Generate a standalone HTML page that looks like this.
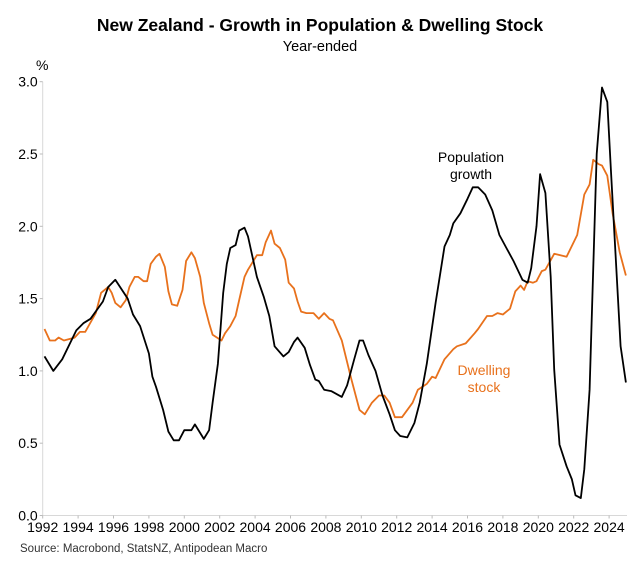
<!DOCTYPE html>
<html><head><meta charset="utf-8"><style>
body{margin:0;background:#fff;}
svg{display:block;font-family:"Liberation Sans",Arial,sans-serif;}
</style></head><body>
<svg id="chart" width="639" height="563" viewBox="0 0 639 563" xmlns="http://www.w3.org/2000/svg">
<text x="320" y="31" text-anchor="middle" font-size="17.5" font-weight="bold" fill="#000">New Zealand - Growth in Population &amp; Dwelling Stock</text>
<text x="320" y="51" text-anchor="middle" font-size="14.5" fill="#000">Year-ended</text>
<text x="36" y="70" font-size="14" fill="#000">%</text>
<g id="axes"></g>
<g id="series"></g>
<text x="471" y="162" text-anchor="middle" font-size="14" fill="#000">Population</text>
<text x="471" y="179" text-anchor="middle" font-size="14" fill="#000">growth</text>
<text x="484" y="375" text-anchor="middle" font-size="14" fill="#e8711c">Dwelling</text>
<text x="484" y="392" text-anchor="middle" font-size="14" fill="#e8711c">stock</text>
<text x="20" y="552" font-size="11.5" fill="#333">Source: Macrobond, StatsNZ, Antipodean Macro</text>
</svg>
<script>
const yTicks = [0, 0.5, 1.0, 1.5, 2.0, 2.5, 3.0];
const yTickLabels = ["0.0","0.5","1.0","1.5","2.0","2.5","3.0"];
const xTicks = [1992,1994,1996,1998,2000,2002,2004,2006,2008,2010,2012,2014,2016,2018,2020,2022,2024];
const popDates = [1992.1,1992.6,1993.1,1993.9,1994.3,1994.7,1995.4,1995.7,1996.1,1996.8,1997.1,1997.5,1998.0,1998.2,1998.4,1998.8,1999.1,1999.4,1999.7,2000.0,2000.4,2000.6,2001.1,2001.4,2001.6,2001.9,2002.2,2002.4,2002.6,2002.9,2003.1,2003.4,2003.6,2004.1,2004.5,2004.8,2005.1,2005.6,2005.9,2006.2,2006.4,2006.8,2007.1,2007.4,2007.6,2007.9,2008.3,2008.9,2009.2,2009.6,2009.9,2010.1,2010.4,2010.8,2011.2,2011.6,2011.9,2012.2,2012.6,2013.0,2013.3,2013.7,2014.2,2014.7,2015.0,2015.2,2015.6,2016.0,2016.3,2016.6,2017.0,2017.4,2017.8,2018.2,2018.6,2019.1,2019.4,2019.6,2019.9,2020.1,2020.4,2020.7,2020.9,2021.2,2021.6,2021.9,2022.1,2022.4,2022.6,2022.9,2023.1,2023.3,2023.6,2023.9,2024.1,2024.65,2024.95];
const popValues = [1.10,1.00,1.08,1.28,1.33,1.36,1.48,1.58,1.63,1.50,1.39,1.31,1.12,0.96,0.89,0.73,0.58,0.52,0.52,0.59,0.59,0.63,0.53,0.59,0.78,1.05,1.54,1.74,1.85,1.87,1.97,1.99,1.93,1.65,1.51,1.38,1.17,1.10,1.13,1.20,1.23,1.16,1.04,0.94,0.93,0.87,0.86,0.82,0.90,1.08,1.21,1.21,1.11,1.00,0.83,0.70,0.59,0.55,0.54,0.64,0.78,1.05,1.47,1.86,1.94,2.02,2.09,2.19,2.27,2.27,2.22,2.11,1.94,1.85,1.76,1.63,1.61,1.71,2.00,2.36,2.23,1.65,1.01,0.49,0.34,0.25,0.14,0.12,0.32,0.87,1.70,2.50,2.96,2.86,2.39,1.17,0.92];
const dwDates = [1992.1,1992.4,1992.7,1992.9,1993.2,1993.8,1994.1,1994.4,1995.0,1995.3,1995.7,1995.9,1996.1,1996.4,1996.7,1996.9,1997.2,1997.4,1997.7,1997.9,1998.1,1998.4,1998.6,1998.9,1999.1,1999.3,1999.6,1999.9,2000.1,2000.4,2000.6,2000.9,2001.1,2001.4,2001.6,2002.1,2002.3,2002.6,2002.9,2003.1,2003.4,2003.6,2004.1,2004.4,2004.6,2004.9,2005.1,2005.4,2005.7,2005.9,2006.2,2006.4,2006.6,2006.9,2007.3,2007.6,2007.9,2008.2,2008.4,2008.9,2009.4,2009.9,2010.2,2010.6,2011.0,2011.3,2011.6,2011.9,2012.3,2012.9,2013.2,2013.7,2014.0,2014.2,2014.7,2015.2,2015.4,2015.9,2016.4,2016.6,2017.1,2017.4,2017.7,2018.0,2018.4,2018.7,2019.0,2019.2,2019.4,2019.7,2019.9,2020.2,2020.4,2020.9,2021.6,2022.2,2022.6,2022.9,2023.1,2023.4,2023.6,2023.9,2024.2,2024.6,2024.95];
const dwValues = [1.29,1.21,1.21,1.23,1.21,1.23,1.27,1.27,1.40,1.54,1.58,1.54,1.47,1.44,1.49,1.58,1.65,1.65,1.62,1.62,1.74,1.79,1.81,1.72,1.55,1.46,1.45,1.56,1.76,1.82,1.78,1.65,1.47,1.33,1.25,1.21,1.26,1.31,1.38,1.49,1.65,1.70,1.80,1.80,1.89,1.97,1.88,1.85,1.77,1.61,1.57,1.48,1.41,1.40,1.40,1.36,1.40,1.36,1.35,1.21,0.96,0.73,0.70,0.78,0.83,0.83,0.78,0.68,0.68,0.78,0.87,0.91,0.96,0.95,1.08,1.15,1.17,1.19,1.26,1.29,1.38,1.38,1.40,1.39,1.43,1.55,1.59,1.56,1.62,1.61,1.62,1.69,1.70,1.81,1.79,1.94,2.22,2.29,2.46,2.43,2.42,2.35,2.09,1.82,1.66];

const NS = "http://www.w3.org/2000/svg";
const x0 = 42.7, yr0 = 1992, pxPerYr = 17.7;
const yBase = 515.5, pxPerUnit = 144.6;
function xScale(d){ return x0 + (d - yr0) * pxPerYr; }
function yScale(v){ return yBase - v * pxPerUnit; }
function mk(tag, attrs){ const e = document.createElementNS(NS, tag); for (const k in attrs) e.setAttribute(k, attrs[k]); return e; }

const axes = document.getElementById('axes');
const yAxis = mk('line', {x1:x0, y1:yScale(3.0), x2:x0, y2:yBase, stroke:'#d8d8d8', 'stroke-width':1});


axes.appendChild(yAxis);
const xAxis = mk('line', {x1:x0, y1:yBase, x2:627, y2:yBase, stroke:'#d8d8d8', 'stroke-width':1});


axes.appendChild(xAxis);

yTicks.forEach((v, i) => {
  const y = yScale(v);
  const t = mk('line', {x1:x0-3, y1:y, x2:x0, y2:y, stroke:'#bbb', 'stroke-width':1});
  
  
  axes.appendChild(t);
  const lb = mk('text', {x:x0-5, y:y+5, 'text-anchor':'end', 'font-size':14, fill:'#000'});
  lb.textContent = yTickLabels[i];
  
  
  axes.appendChild(lb);
});
xTicks.forEach(d => {
  const x = xScale(d);
  const t = mk('line', {x1:x, y1:yBase, x2:x, y2:yBase+3, stroke:'#bbb', 'stroke-width':1});
  
  
  axes.appendChild(t);
  const lb = mk('text', {x:x, y:532, 'text-anchor':'middle', 'font-size':14, fill:'#000'});
  lb.textContent = String(d);
  
  
  axes.appendChild(lb);
});

const series = document.getElementById('series');
function pathFrom(dates, vals){ return dates.map((d,i)=>(i?'L':'M')+xScale(d).toFixed(1)+' '+yScale(vals[i]).toFixed(1)).join(' '); }
const dw = mk('path', {d:pathFrom(dwDates, dwValues), fill:'none', stroke:'#e8711c', 'stroke-width':1.8, 'stroke-linejoin':'round'});


series.appendChild(dw);
const pop = mk('path', {d:pathFrom(popDates, popValues), fill:'none', stroke:'#000', 'stroke-width':1.8, 'stroke-linejoin':'round'});


series.appendChild(pop);
</script>
</body></html>
